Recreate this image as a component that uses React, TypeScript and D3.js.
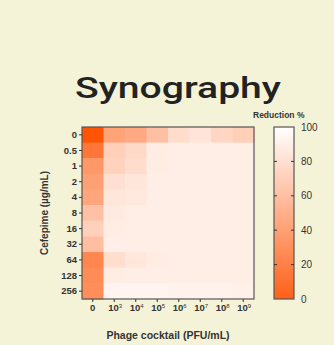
import React, { useRef, useEffect } from 'react';
import * as d3 from 'd3';

const cefepime = ['0', '0.5', '1', '2', '4', '8', '16', '32', '64', '128', '256'];
const phageExp = ['', '3', '4', '5', '6', '7', '8', '9'];
// reduction % per cefepime row, columns = phage cocktail doses
const rowValues: number[][] = [
  [-8, 42, 46, 60, 78, 83, 74, 70],
  [14, 70, 76, 88, 89, 89, 89, 89],
  [35, 72, 78, 88, 89, 89, 89, 89],
  [40, 80, 84, 89, 89, 89, 89, 89],
  [44, 84, 86, 89, 89, 89, 89, 89],
  [61, 87, 89, 89, 89, 89, 89, 89],
  [71, 88, 89, 89, 89, 89, 89, 89],
  [59, 90, 89, 89, 89, 89, 89, 89],
  [24, 79, 85, 88, 89, 89, 89, 89],
  [27, 88, 89, 89, 89, 89, 89, 89],
  [29, 93, 93, 93, 92, 92, 92, 91],
];
const legendTicks = [0, 20, 40, 60, 80, 100];

export default function App() {
  const svgRef = useRef<SVGSVGElement>(null);

  useEffect(() => {
    const w = 334;
    const h = 345;
    const svg = d3.select(svgRef.current).attr('width', w).attr('height', h);
    svg.selectAll('*').remove();
    svg.append('rect').attr('width', w).attr('height', h).attr('fill', '#f5f3d7');

    const font = "'Liberation Sans', Arial, sans-serif";
    const left = 82, top = 127, size = 172;

    const x = d3.scaleBand().domain(phageExp.map((_, i) => String(i))).range([left, left + size]);
    const y = d3.scaleBand().domain(cefepime).range([top, top + size]);
    const color = d3.scaleLinear<string>().domain([-10, 100]).range(['#ff5000', '#ffffff']);

    // title
    svg.append('text')
      .attr('x', 178).attr('y', 98)
      .attr('text-anchor', 'middle')
      .attr('textLength', 206)
      .attr('lengthAdjust', 'spacingAndGlyphs')
      .style('font-family', "Roboto, sans-serif")
      .style('font-weight', 500)
      .style('font-size', '29px')
      .attr('fill', '#222')
      .text('Synography');

    // cells
    const cells = rowValues.flatMap((row, r) => row.map((v, c) => ({ r, c, v })));
    svg.append('g').selectAll('rect').data(cells).join('rect')
      .attr('x', d => x(String(d.c))!)
      .attr('y', d => y(cefepime[d.r])!)
      .attr('width', x.bandwidth() + 0.5)
      .attr('height', y.bandwidth() + 0.5)
      .attr('fill', d => color(d.v));

    svg.append('rect')
      .attr('x', left).attr('y', top).attr('width', size).attr('height', size)
      .attr('fill', 'none').attr('stroke', '#555').attr('stroke-width', 1.2);

    // y axis
    const yAxis = svg.append('g').attr('transform', `translate(${left},0)`)
      .call(d3.axisLeft(y).tickSize(3).tickPadding(2));
    yAxis.select('.domain').remove();
    yAxis.selectAll('text').style('font-family', font).style('font-weight', 'bold').style('font-size', '9.5px').attr('fill', '#333');
    yAxis.selectAll('line').attr('stroke', '#333');

    // x axis
    const xAxis = svg.append('g').attr('transform', `translate(0,${top + size})`)
      .call(d3.axisBottom(x).tickSize(3).tickPadding(2).tickFormat(() => ''));
    xAxis.select('.domain').remove();
    xAxis.selectAll('line').attr('stroke', '#333');
    const xl = svg.append('g').selectAll('text').data(phageExp).join('text')
      .attr('x', (_, i) => x(String(i))! + x.bandwidth() / 2 + (i === 0 ? 0 : 1))
      .attr('y', 311)
      .attr('text-anchor', 'middle')
      .style('font-family', font).style('font-weight', 'bold').style('font-size', '9.5px')
      .attr('fill', '#333');
    xl.each(function (d) {
      const t = d3.select(this);
      if (d === '') { t.text('0'); return; }
      t.append('tspan').text('10');
      t.append('tspan').attr('dy', -3).style('font-size', '6px').style('font-weight', 'normal').text(d);
    });

    // axis titles
    svg.append('text')
      .attr('x', 168).attr('y', 339)
      .attr('text-anchor', 'middle')
      .style('font-family', font).style('font-weight', 'bold').style('font-size', '10.5px')
      .attr('fill', '#333')
      .text('Phage cocktail (PFU/mL)');
    svg.append('text')
      .attr('transform', `translate(48,${top + size / 2}) rotate(-90)`)
      .attr('text-anchor', 'middle')
      .style('font-family', font).style('font-weight', 'bold').style('font-size', '10px')
      .attr('fill', '#333')
      .text('Cefepime (µg/mL)');

    // colour bar
    const cbX = 274, cbW = 20;
    const cy = d3.scaleLinear().domain([0, 100]).range([top + size, top]);
    const defs = svg.append('defs');
    const grad = defs.append('linearGradient').attr('id', 'cb').attr('x1', 0).attr('y1', 1).attr('x2', 0).attr('y2', 0);
    d3.range(0, 101, 10).forEach(v => {
      grad.append('stop').attr('offset', `${v}%`).attr('stop-color', color(v));
    });
    svg.append('rect')
      .attr('x', cbX).attr('y', top).attr('width', cbW).attr('height', size)
      .attr('fill', 'url(#cb)').attr('stroke', '#555').attr('stroke-width', 1.2);
    const ticksG = svg.append('g');
    legendTicks.filter(t => t > 0 && t < 100).forEach(t => {
      ticksG.append('line').attr('x1', cbX).attr('x2', cbX + 3).attr('y1', cy(t)).attr('y2', cy(t)).attr('stroke', '#333');
      ticksG.append('line').attr('x1', cbX + cbW - 3).attr('x2', cbX + cbW).attr('y1', cy(t)).attr('y2', cy(t)).attr('stroke', '#333');
    });
    svg.append('g').selectAll('text').data(legendTicks).join('text')
      .attr('x', 301).attr('y', d => cy(d) + 3.5)
      .style('font-family', font).style('font-size', '10px')
      .attr('fill', '#333')
      .text(d => d);
    svg.append('text')
      .attr('x', 253).attr('y', 118)
      .style('font-family', font).style('font-weight', 'bold').style('font-size', '8.5px')
      .attr('fill', '#333')
      .text('Reduction  %');
  }, []);

  return (
    <div style={{ position: 'absolute', left: 0, top: 0 }}>
      <svg ref={svgRef} style={{ display: 'block' }}></svg>
    </div>
  );
}
